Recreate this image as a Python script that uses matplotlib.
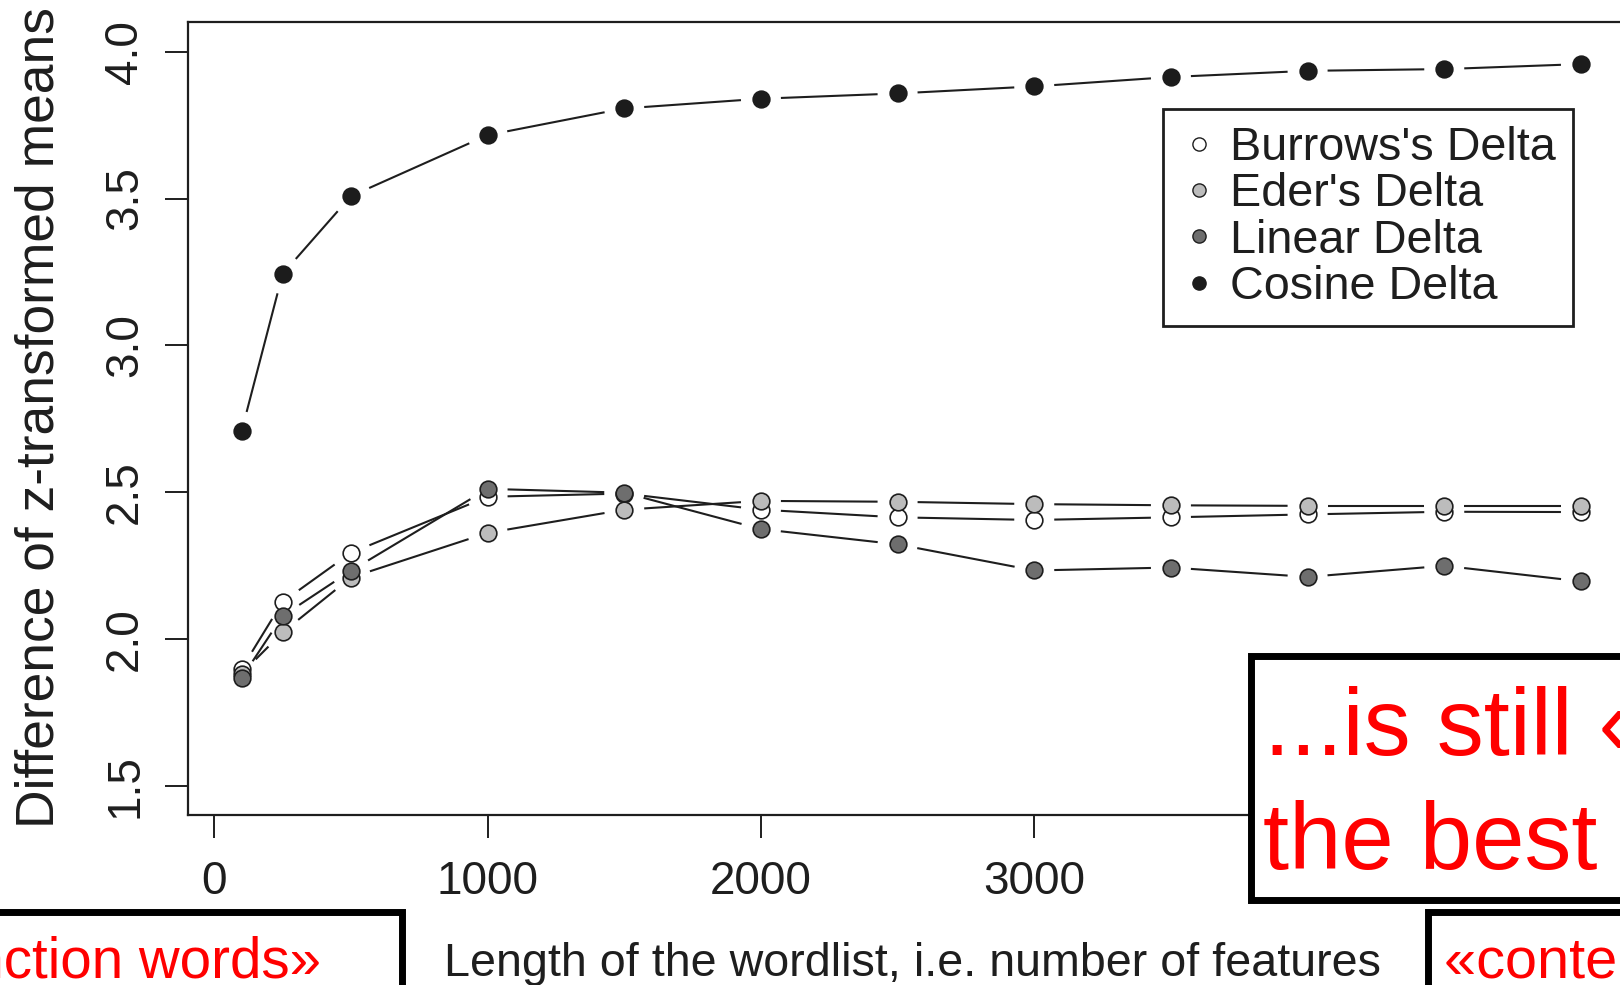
import numpy as np
import matplotlib
matplotlib.use("Agg")
import matplotlib.pyplot as plt
from matplotlib.collections import LineCollection
from matplotlib.lines import Line2D
from matplotlib.patches import Rectangle

plt.rcParams['font.family'] = ['Liberation Sans', 'DejaVu Sans']

# length of the wordlist (number of most frequent words)
mfw = [100, 250, 500, 1000, 1500, 2000, 2500, 3000, 3500, 4000, 4500, 5000]

burrows = [1.898, 2.126, 2.293, 2.484, 2.495, 2.440, 2.414, 2.405, 2.414, 2.424, 2.433, 2.432]
eder    = [1.882, 2.022, 2.209, 2.361, 2.440, 2.470, 2.467, 2.459, 2.455, 2.453, 2.453, 2.453]
linear  = [1.867, 2.078, 2.232, 2.511, 2.498, 2.374, 2.322, 2.233, 2.243, 2.211, 2.249, 2.196]
cosine  = [2.707, 3.243, 3.508, 3.716, 3.807, 3.840, 3.858, 3.882, 3.914, 3.935, 3.941, 3.958]

names = ["Burrows's Delta", "Eder's Delta", "Linear Delta", "Cosine Delta"]
fills = ['white', '#bcbcbc', '#6e6e6e', '#1c1c1c']

xticks = [0, 1000, 2000, 3000, 4000, 5000]
yticks = [1.5, 2.0, 2.5, 3.0, 3.5, 4.0]

box_top = ["...is still «", "the best"]
box_left = "«function words»"
box_right = "«content words»"

W, H = 1620, 985
fig = plt.figure(figsize=(W / 100, H / 100), dpi=100)


def fx(x):
    return x / W


def fy(y):
    return 1 - y / H


ax = fig.add_axes([fx(188), fy(815), (1634.5 - 188) / W, (815 - 22.4) / H])
ax.set_xlim(-96, 5196)
ax.set_ylim(1.4, 4.1)

ink = '#1e1e1e'


def gapped_line(xs, ys, gap=20, **kw):
    # R style type="b": segments stop short of each point
    pts = ax.transData.transform(np.column_stack([xs, ys]))
    inv = ax.transData.inverted()
    segs = []
    for p0, p1 in zip(pts[:-1], pts[1:]):
        d = p1 - p0
        L = np.hypot(*d)
        if L <= 2 * gap:
            continue
        u = d / L
        segs.append(inv.transform(np.array([p0 + u * gap, p1 - u * gap])))
    ax.add_collection(LineCollection(segs, **kw))


series = [burrows, eder, linear, cosine]
for ys in series:
    gapped_line(mfw, ys, color=ink, linewidth=1.5, zorder=2)
for ys, fc in zip(series, fills):
    ec = fc if fc == '#1c1c1c' else ink
    ax.plot(mfw, ys, linestyle='none', marker='o', markersize=12,
            markerfacecolor=fc, markeredgecolor=ec, markeredgewidth=1.2, zorder=3)

ax.set_xticks(xticks)
ax.set_yticks(yticks)
ax.tick_params(direction='out', length=16.5, width=1.4, labelsize=33,
               colors=ink)
ax.tick_params(axis='x', pad=16)
ax.tick_params(axis='y', labelrotation=90, pad=13)
for lab in ax.get_yticklabels():
    lab.set_va('center')
for side in ['left', 'bottom', 'top']:
    ax.spines[side].set_linewidth(1.6)
    ax.spines[side].set_color(ink)
ax.spines['right'].set_visible(False)

ax.set_xlabel("Length of the wordlist, i.e. number of features", fontsize=33.6, color=ink)
ax.xaxis.set_label_coords(fx(912), fy(942), transform=fig.transFigure)
ax.set_ylabel("Difference of z-transformed means", fontsize=38.4, color=ink)
ax.yaxis.set_label_coords(fx(65), fy(418), transform=fig.transFigure)

handles = []
for name, fc in zip(names, fills):
    ec = fc if fc == '#1c1c1c' else ink
    handles.append(Line2D([], [], linestyle='none', marker='o', markersize=9.5,
                          markerfacecolor=fc, markeredgecolor=ec,
                          markeredgewidth=1.0, label=name))
leg = ax.legend(handles=handles, loc='upper left',
                bbox_to_anchor=(fx(1163), fy(109.3)), bbox_transform=fig.transFigure,
                borderaxespad=0, fontsize=33.7, fancybox=False, framealpha=1,
                edgecolor=ink, handlelength=0.8, handletextpad=0.28,
                borderpad=0.36, labelspacing=0.05)
leg.get_frame().set_linewidth(2.0)
for t in leg.get_texts():
    t.set_color(ink)

# red callout boxes laid over the chart
boxes = [(1250.5, 655.5, 1660, 899.5), (-40, 911.8, 401.5, 1020), (1427.8, 911.8, 1660, 1020)]
for x0, y0, x1, y1 in boxes:
    fig.add_artist(Rectangle((fx(x0), fy(y1)), (x1 - x0) / W, (y1 - y0) / H,
                             transform=fig.transFigure, facecolor='white',
                             edgecolor='black', linewidth=5, zorder=5))

fig.text(fx(1264), fy(755), box_top[0], color='red', fontsize=67.7, va='baseline', zorder=6)
fig.text(fx(1263), fy(869), box_top[1], color='red', fontsize=67.7, va='baseline', zorder=6)
fig.text(fx(321.5), fy(978), box_left, color='red', fontsize=40.7, ha='right', va='baseline', zorder=6)
fig.text(fx(1444), fy(978), box_right, color='red', fontsize=41.5, va='baseline', zorder=6)

fig.savefig('out.png', dpi=100)
